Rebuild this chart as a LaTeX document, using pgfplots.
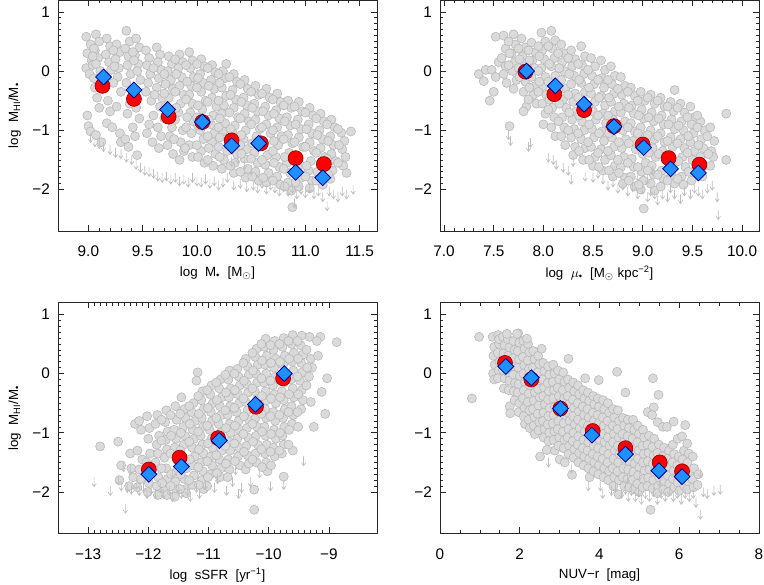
\documentclass[border=0pt]{standalone}
\usepackage{pgfplots}
\pgfplotsset{compat=1.18}
\usepackage{fontspec}
\setmainfont{Liberation Sans}

\definecolor{ptfill}{RGB}{218,218,218}
\definecolor{ptedge}{RGB}{185,185,185}
\definecolor{arrgray}{RGB}{190,190,190}
\definecolor{mred}{RGB}{255,0,0}
\definecolor{mdarkred}{RGB}{150,0,0}
\definecolor{mblue}{RGB}{30,144,255}
\definecolor{mdarkblue}{RGB}{0,0,150}

% upper limit: line from the value downwards with an open head
\pgfdeclareplotmark{darrow}{%
  \pgfpathmoveto{\pgfqpoint{0pt}{0pt}}%
  \pgfpathlineto{\pgfqpoint{0pt}{-7pt}}%
  \pgfpathmoveto{\pgfqpoint{-1.6pt}{-4.6pt}}%
  \pgfpathlineto{\pgfqpoint{0pt}{-7pt}}%
  \pgfpathlineto{\pgfqpoint{1.6pt}{-4.6pt}}%
  \pgfusepathqstroke}

\pgfplotsset{
  panel/.style={
    scale only axis, width=239.25pt, height=173.25pt, anchor=north west,
    ymin=-2.7, ymax=1.2, ytick={-2,-1,0,1}, yticklabels={−2,−1,0,1},
    minor y tick num=9, tick align=inside, tick pos=both,
    major tick length=4.5pt, minor tick length=2.3pt,
    axis line style={line width=0.6pt, black!85},
    every tick/.style={black!85, line width=0.5pt},
    tick label style={font=\fontsize{11.5}{13}\selectfont},
    label style={font=\fontsize{11.5}{13}\selectfont},
    xticklabel style={anchor=center, yshift=-15.5pt},
    yticklabel style={xshift=-2.5pt},
    every axis x label/.style={at={(axis description cs:0.5,0)}, yshift=-31.5pt, anchor=center},
    every axis y label/.style={at={(axis description cs:0,0.5)}, xshift=-32.5pt, rotate=90, anchor=center},
  },
  gals/.style={only marks, mark=*, mark size=3.4pt,
    mark options={fill=ptfill, draw=ptedge, line width=0.45pt}},
  lims/.style={only marks, mark=darrow, mark options={draw=arrgray, line width=0.5pt}},
  redpts/.style={only marks, mark=*, mark size=5.6pt,
    mark options={fill=mred, draw=mdarkred, line width=0.5pt}},
  bluepts/.style={only marks, mark=square*, mark size=4.2pt,
    mark options={rotate=45, fill=mblue, draw=mdarkblue, line width=0.6pt}},
}

\begin{document}
\begin{tikzpicture}
\path[use as bounding box] (0,0) rectangle (573pt,438.75pt);

% ---------- top left: stellar mass ----------
\begin{axis}[panel, at={(43.5pt,438.75pt)},
  xmin=8.72, xmax=11.66, xtick={9,9.5,10,10.5,11,11.5},
  xticklabels={9.0,9.5,10.0,10.5,11.0,11.5}, minor x tick num=4,
  xlabel={log\ \ M\textsubscript{•}\ \ [M$_\odot$]},
  ylabel={log\ \ M\textsubscript{HI}/M\textsubscript{•}}]
\addplot[gals] coordinates {
(8.98,0.58)(9.02,0.45)(8.99,0.3)(9.03,0.18)(8.98,0.05)(9.01,-0.05)(9.04,0.1)(8.99,-0.75)(9.0,-0.93)(9.02,-1.02)
(9.07,0.62)(9.1,0.5)(9.06,0.35)(9.09,0.22)(9.07,0.12)(9.11,0.0)(9.08,-0.45)(9.1,-0.62)(9.07,-1.08)(9.12,-1.2)
(9.17,0.55)(9.2,0.42)(9.16,0.28)(9.19,0.15)(9.21,0.02)(9.18,-0.5)(9.2,-0.68)(9.17,-0.88)(9.22,-0.95)
(9.26,0.45)(9.29,0.32)(9.25,0.2)(9.28,0.05)(9.27,-0.1)(9.3,-0.35)(9.26,-0.6)(9.29,-1.05)(9.3,-1.2)
(9.35,0.68)(9.38,0.5)(9.34,0.38)(9.37,0.25)(9.36,0.1)(9.39,-0.05)(9.35,-0.2)(9.38,-0.55)(9.36,-0.72)(9.34,-1.15)(9.37,-1.28)
(9.44,0.55)(9.47,0.4)(9.43,0.27)(9.46,0.12)(9.45,0.0)(9.48,-0.15)(9.44,-0.62)(9.47,-0.8)(9.45,-1.42)(9.43,-1.1)
(9.53,0.35)(9.56,0.22)(9.54,0.1)(9.57,-0.05)(9.55,-0.2)(9.53,-0.35)(9.58,-0.5)(9.56,-0.9)(9.59,-1.2)(9.54,-1.05)
(9.63,0.4)(9.66,0.28)(9.64,0.15)(9.67,0.02)(9.65,-0.12)(9.63,-0.28)(9.68,-0.45)(9.66,-0.6)(9.64,-0.95)(9.67,-1.1)(9.65,-1.3)
(9.74,0.25)(9.77,0.12)(9.73,0.0)(9.76,-0.15)(9.78,-0.3)(9.74,-0.45)(9.77,-0.95)(9.75,-1.1)(9.73,-1.25)(9.78,-1.4)
(9.84,0.28)(9.87,0.15)(9.83,0.05)(9.86,-0.1)(9.84,-0.25)(9.88,-0.4)(9.85,-0.55)(9.83,-0.7)(9.87,-1.0)(9.85,-1.2)(9.88,-1.35)(9.84,-1.5)
(9.93,0.32)(9.96,0.18)(9.94,0.05)(9.97,-0.1)(9.95,-0.25)(9.93,-0.4)(9.96,-0.55)(9.94,-0.7)(9.97,-0.85)(9.95,-1.05)(9.93,-1.25)(9.96,-1.45)
(10.04,0.2)(10.07,0.08)(10.03,-0.05)(10.06,-0.2)(10.04,-0.35)(10.08,-0.5)(10.05,-0.65)(10.03,-1.0)(10.06,-1.15)(10.04,-1.35)(10.07,-1.55)
(10.14,0.1)(10.17,-0.02)(10.13,-0.15)(10.16,-0.3)(10.14,-0.45)(10.18,-0.6)(10.15,-0.75)(10.13,-0.9)(10.16,-1.05)(10.14,-1.2)(10.17,-1.4)(10.15,-1.6)
(10.27,0.12)(10.24,0.0)(10.26,-0.12)(10.23,-0.28)(10.27,-0.42)(10.25,-0.58)(10.23,-0.72)(10.26,-0.88)(10.24,-1.02)(10.28,-1.35)(10.25,-1.5)(10.23,-1.65)
(10.34,-0.05)(10.37,-0.18)(10.33,-0.32)(10.36,-0.48)(10.34,-0.62)(10.38,-0.78)(10.35,-0.92)(10.33,-1.05)(10.37,-1.4)(10.35,-1.55)(10.34,-1.72)
(10.44,-0.15)(10.47,-0.3)(10.43,-0.45)(10.46,-0.58)(10.44,-0.72)(10.48,-0.85)(10.45,-1.0)(10.43,-1.15)(10.46,-1.32)(10.44,-1.48)(10.47,-1.65)(10.45,-1.8)
(10.54,-0.25)(10.57,-0.4)(10.53,-0.55)(10.56,-0.68)(10.54,-0.82)(10.58,-0.98)(10.55,-1.1)(10.53,-1.38)(10.56,-1.55)(10.54,-1.7)(10.57,-1.85)
(10.64,-0.3)(10.67,-0.45)(10.63,-0.6)(10.66,-0.75)(10.64,-0.9)(10.68,-1.05)(10.65,-1.42)(10.63,-1.58)(10.66,-1.72)(10.64,-1.88)
(10.74,-0.38)(10.77,-0.52)(10.73,-0.66)(10.76,-0.8)(10.74,-0.95)(10.78,-1.1)(10.75,-1.25)(10.73,-1.45)(10.76,-1.62)(10.74,-1.78)(10.77,-1.92)
(10.84,-0.5)(10.87,-0.62)(10.83,-0.78)(10.86,-0.92)(10.84,-1.08)(10.88,-1.22)(10.85,-1.38)(10.83,-1.55)(10.86,-1.72)(10.84,-1.88)(10.87,-2.02)
(10.94,-0.52)(10.97,-0.68)(10.93,-0.82)(10.96,-0.98)(10.94,-1.12)(10.98,-1.28)(10.93,-1.62)(10.96,-1.8)(10.94,-1.95)(10.88,-2.3)
(11.04,-0.62)(11.07,-0.75)(11.03,-0.9)(11.06,-1.05)(11.04,-1.2)(11.08,-1.35)(11.05,-1.52)(11.03,-1.68)(11.06,-1.85)(11.04,-1.98)
(11.14,-0.72)(11.17,-0.85)(11.13,-1.0)(11.16,-1.15)(11.14,-1.3)(11.18,-1.45)(11.15,-1.62)(11.13,-1.78)(11.16,-1.92)
(11.24,-0.82)(11.27,-0.95)(11.23,-1.1)(11.26,-1.25)(11.24,-1.4)(11.28,-1.52)(11.25,-1.68)(11.23,-1.82)
(11.33,-1.04)(11.36,-1.18)(11.34,-1.32)(11.37,-1.45)(11.35,-1.6)(11.38,-1.72)(11.42,-1.02)
};
\addplot[gals] coordinates {
(9.05,0.38)(9.04,0.25)(9.05,-0.12)(9.06,-0.28)(9.23,0.35)(9.24,0.08)(9.23,-0.2)
(9.41,0.32)(9.42,0.18)(9.41,-0.3)(9.41,-0.95)(9.6,0.05)(9.61,-0.4)(9.6,-0.75)
(9.7,-0.05)(9.71,-0.22)(9.7,-0.38)(9.71,-0.6)(9.7,-0.8)
(9.8,0.2)(9.81,-0.05)(9.8,-0.35)(9.81,-0.62)(9.8,-0.82)(9.79,-1.15)
(9.9,0.1)(9.91,-0.18)(9.9,-0.48)(9.91,-0.78)(9.9,-0.95)(9.89,-1.3)
(10.0,0.12)(10.01,-0.12)(10.0,-0.28)(10.01,-0.58)(10.0,-0.78)(10.01,-0.92)(10.0,-1.25)(10.01,-1.45)
(10.1,0.05)(10.11,-0.25)(10.1,-0.52)(10.11,-0.82)(10.1,-1.1)(10.11,-1.3)(10.1,-1.5)
(10.2,-0.05)(10.21,-0.2)(10.2,-0.5)(10.21,-0.8)(10.2,-0.95)(10.21,-1.12)(10.2,-1.28)(10.21,-1.45)
(10.3,-0.1)(10.31,-0.4)(10.3,-0.7)(10.31,-0.98)(10.3,-1.25)(10.31,-1.6)
(10.4,-0.22)(10.41,-0.52)(10.4,-0.8)(10.41,-1.08)(10.4,-1.25)(10.41,-1.4)(10.4,-1.7)
(10.5,-0.35)(10.51,-0.62)(10.5,-0.9)(10.51,-1.22)(10.5,-1.48)(10.51,-1.78)
(10.6,-0.38)(10.61,-0.68)(10.6,-0.95)(10.61,-1.25)(10.6,-1.5)(10.61,-1.8)
(10.7,-0.48)(10.71,-0.72)(10.7,-1.0)(10.71,-1.18)(10.7,-1.35)(10.71,-1.55)(10.7,-1.85)
(10.8,-0.58)(10.81,-0.85)(10.8,-1.15)(10.81,-1.45)(10.8,-1.65)(10.81,-1.95)
(10.9,-0.6)(10.91,-0.9)(10.9,-1.2)(10.91,-1.5)(10.9,-1.72)(10.91,-1.88)
(11.0,-0.7)(11.01,-0.98)(11.0,-1.28)(11.01,-1.6)(11.0,-1.78)
(11.1,-0.8)(11.11,-1.08)(11.1,-1.38)(11.11,-1.7)(11.1,-1.85)
(11.2,-0.9)(11.21,-1.18)(11.2,-1.48)(11.21,-1.75)(11.3,-0.98)(11.31,-1.25)(11.3,-1.55)
};
\addplot[lims] coordinates {
(9.02,-1.05)(9.06,-1.12)(9.1,-1.15)(9.14,-1.2)(9.2,-1.25)(9.25,-1.3)(9.3,-1.32)(9.35,-1.38)(9.4,-1.42)(9.44,-1.5)
(9.48,-1.55)(9.52,-1.6)(9.56,-1.62)(9.6,-1.65)(9.64,-1.7)(9.68,-1.72)(9.72,-1.7)(9.76,-1.75)(9.8,-1.72)(9.84,-1.78)
(9.88,-1.75)(9.92,-1.8)(9.96,-1.72)(10.0,-1.78)(10.04,-1.8)(10.08,-1.75)(10.12,-1.82)(10.16,-1.78)(10.2,-1.85)(10.24,-1.8)
(10.28,-1.72)(10.32,-1.45)(10.34,-1.85)(10.38,-1.4)(10.4,-1.82)(10.44,-1.5)(10.46,-1.88)(10.5,-1.6)(10.52,-1.85)(10.56,-1.9)
(10.6,-1.82)(10.64,-1.92)(10.68,-1.85)(10.72,-1.9)(10.76,-1.95)(10.8,-1.88)(10.84,-1.95)(10.88,-1.9)(10.92,-2.0)(10.96,-1.92)
(11.0,-1.98)(11.04,-1.9)(11.08,-2.0)(11.12,-1.95)(11.16,-2.05)(11.2,-2.2)(11.22,-1.95)(11.26,-2.0)(11.3,-2.05)(11.34,-1.95)
(11.38,-2.0)(11.44,-1.92)(10.9,-2.15)
};
\addplot[redpts] coordinates {(9.13,-0.25)(9.42,-0.47)(9.74,-0.77)(10.05,-0.86)(10.32,-1.17)(10.59,-1.22)(10.91,-1.47)(11.17,-1.57)};
\addplot[bluepts] coordinates {(9.14,-0.10)(9.42,-0.32)(9.73,-0.65)(10.05,-0.86)(10.32,-1.26)(10.57,-1.22)(10.91,-1.71)(11.16,-1.80)};
\end{axis}

% ---------- top right: surface density ----------
\begin{axis}[panel, at={(330pt,438.75pt)},
  xmin=6.96, xmax=10.17, xtick={7,7.5,8,8.5,9,9.5,10},
  xticklabels={7.0,7.5,8.0,8.5,9.0,9.5,10.0}, minor x tick num=4,
  xlabel={log\ \ $\mu$\textsubscript{•}\ \ [M$_\odot$\ kpc\textsuperscript{−2}]}]
\addplot[gals] coordinates {
(7.35,-0.05)(7.4,-0.17)(7.42,0.02)
(7.48,0.02)(7.52,-0.1)(7.46,-0.5)(7.5,-0.35)(7.55,0.15)(7.52,0.58)
(7.6,0.6)(7.62,0.38)(7.58,0.22)(7.62,0.08)(7.6,-0.05)(7.63,-0.2)(7.66,-0.93)
(7.7,0.62)(7.72,0.45)(7.68,0.3)(7.71,0.15)(7.69,0.0)(7.73,-0.15)(7.7,-0.3)
(7.78,0.55)(7.82,0.4)(7.79,0.25)(7.81,0.12)(7.78,-0.02)(7.82,-0.18)(7.8,-0.35)(7.83,-0.6)(7.8,-0.68)
(7.88,0.48)(7.92,0.32)(7.89,0.18)(7.91,0.05)(7.88,-0.1)(7.92,-0.25)(7.9,-0.4)(7.93,-0.55)
(7.98,0.65)(8.02,0.5)(7.99,0.35)(8.01,0.2)(7.98,0.05)(8.02,-0.1)(8.0,-0.25)(8.03,-0.4)(7.99,-0.55)(8.02,-0.72)(8.0,-0.9)
(8.08,0.68)(8.12,0.52)(8.09,0.38)(8.11,0.22)(8.08,0.08)(8.12,-0.08)(8.1,-0.22)(8.13,-0.45)(8.09,-0.62)(8.11,-0.78)(8.08,-0.95)(8.12,-1.1)
(8.18,0.45)(8.22,0.3)(8.19,0.15)(8.21,0.0)(8.18,-0.15)(8.22,-0.3)(8.2,-0.48)(8.23,-0.62)(8.19,-0.78)(8.21,-0.95)(8.18,-1.1)(8.22,-1.25)
(8.28,0.35)(8.32,0.2)(8.29,0.08)(8.31,-0.08)(8.28,-0.22)(8.32,-0.38)(8.3,-0.52)(8.33,-0.68)(8.29,-0.82)(8.31,-0.98)(8.28,-1.12)(8.32,-1.28)(8.3,-1.42)
(8.38,0.42)(8.42,0.25)(8.39,0.1)(8.41,-0.05)(8.38,-0.2)(8.42,-0.35)(8.4,-0.5)(8.43,-0.68)(8.39,-0.85)(8.41,-1.0)(8.38,-1.15)(8.42,-1.3)(8.4,-1.5)
(8.48,0.22)(8.52,0.08)(8.49,-0.08)(8.51,-0.22)(8.48,-0.38)(8.52,-0.52)(8.5,-0.68)(8.53,-0.82)(8.49,-0.98)(8.51,-1.12)(8.48,-1.28)(8.52,-1.45)(8.5,-1.6)
(8.58,0.18)(8.62,0.02)(8.59,-0.12)(8.61,-0.28)(8.58,-0.42)(8.62,-0.58)(8.6,-0.72)(8.63,-0.88)(8.59,-1.02)(8.61,-1.18)(8.58,-1.32)(8.62,-1.5)(8.6,-1.68)
(8.68,0.08)(8.72,-0.08)(8.69,-0.22)(8.71,-0.38)(8.68,-0.52)(8.72,-0.68)(8.7,-0.82)(8.73,-0.98)(8.69,-1.12)(8.71,-1.28)(8.68,-1.42)(8.72,-1.6)(8.7,-1.78)
(8.78,-0.1)(8.82,-0.25)(8.79,-0.4)(8.81,-0.55)(8.78,-0.7)(8.82,-0.85)(8.8,-1.0)(8.83,-1.15)(8.79,-1.3)(8.81,-1.45)(8.78,-1.62)(8.82,-1.8)(8.8,-1.9)
(8.88,-0.28)(8.92,-0.42)(8.89,-0.58)(8.91,-0.72)(8.88,-0.88)(8.92,-1.02)(8.9,-1.18)(8.93,-1.32)(8.89,-1.48)(8.91,-1.62)(8.88,-1.78)(8.92,-1.95)
(8.98,-0.35)(9.02,-0.5)(8.99,-0.65)(9.01,-0.8)(8.98,-0.95)(9.02,-1.1)(9.0,-1.4)(9.03,-1.55)(8.99,-1.7)(9.01,-1.85)(8.98,-2.0)(9.01,-2.32)
(9.08,-0.4)(9.12,-0.55)(9.09,-0.7)(9.11,-0.85)(9.08,-1.0)(9.12,-1.15)(9.1,-1.3)(9.13,-1.45)(9.09,-1.6)(9.11,-1.75)(9.08,-1.9)(9.12,-2.02)
(9.18,-0.45)(9.22,-0.6)(9.19,-0.75)(9.21,-0.9)(9.18,-1.05)(9.22,-1.2)(9.2,-1.35)(9.23,-1.5)(9.19,-1.68)(9.21,-1.82)(9.18,-1.95)
(9.32,-0.32)(9.28,-0.52)(9.31,-0.68)(9.29,-0.82)(9.32,-0.98)(9.28,-1.12)(9.3,-1.28)(9.27,-1.42)(9.31,-1.58)(9.29,-1.75)(9.32,-1.9)
(9.38,-0.55)(9.42,-0.7)(9.39,-0.85)(9.41,-1.0)(9.38,-1.15)(9.42,-1.3)(9.4,-1.45)(9.43,-1.62)(9.39,-1.78)(9.41,-1.92)
(9.48,-0.6)(9.52,-0.78)(9.49,-0.9)(9.51,-1.05)(9.48,-1.2)(9.52,-1.35)(9.5,-1.5)(9.53,-1.68)(9.49,-1.85)
(9.58,-0.85)(9.62,-1.0)(9.59,-1.15)(9.61,-1.3)(9.58,-1.45)(9.62,-1.6)(9.6,-1.78)(9.55,-0.75)
(9.68,-0.95)(9.72,-1.18)(9.69,-1.35)(9.71,-1.45)(9.68,-1.6)(9.84,-0.72)(9.84,-1.5)
};
\addplot[gals] coordinates {
(7.65,0.5)(7.66,0.3)(7.65,0.1)(7.75,0.38)(7.76,0.2)(7.75,0.05)(7.76,-0.1)
(7.85,0.35)(7.86,0.18)(7.85,-0.05)(7.86,-0.28)(7.85,-0.48)
(7.95,0.42)(7.96,0.25)(7.95,0.0)(7.96,-0.18)(7.95,-0.35)
(8.05,0.42)(8.06,0.12)(8.05,-0.18)(8.06,-0.48)(8.05,-0.65)
(8.15,0.3)(8.16,0.05)(8.15,-0.32)(8.16,-0.55)(8.15,-0.85)
(8.25,0.22)(8.26,-0.05)(8.25,-0.4)(8.26,-0.7)(8.25,-1.0)
(8.35,0.12)(8.36,-0.15)(8.35,-0.45)(8.36,-0.75)(8.35,-1.05)(8.36,-1.35)
(8.45,0.02)(8.46,-0.28)(8.45,-0.6)(8.46,-0.9)(8.45,-1.2)(8.46,-1.5)
(8.55,-0.15)(8.56,-0.45)(8.55,-0.75)(8.56,-1.05)(8.55,-1.38)(8.56,-1.62)
(8.65,-0.15)(8.66,-0.45)(8.65,-0.75)(8.66,-1.05)(8.65,-1.35)(8.66,-1.68)
(8.75,-0.3)(8.76,-0.6)(8.75,-0.9)(8.76,-1.2)(8.75,-1.5)(8.76,-1.72)
(8.85,-0.35)(8.86,-0.62)(8.85,-0.95)(8.86,-1.22)(8.85,-1.55)(8.86,-1.85)
(8.95,-0.5)(8.96,-0.75)(8.95,-1.05)(8.96,-1.25)(8.95,-1.62)(8.96,-1.92)
(9.05,-0.45)(9.06,-0.78)(9.05,-1.08)(9.06,-1.38)(9.05,-1.68)
(9.15,-0.5)(9.16,-0.8)(9.15,-1.1)(9.16,-1.4)(9.15,-1.75)
(9.25,-0.6)(9.26,-0.9)(9.25,-1.18)(9.26,-1.48)(9.25,-1.85)
(9.35,-0.62)(9.36,-0.92)(9.35,-1.22)(9.36,-1.52)(9.35,-1.82)
(9.45,-0.78)(9.46,-1.1)(9.45,-1.38)(9.46,-1.7)(9.55,-0.95)(9.56,-1.25)(9.55,-1.55)(9.65,-1.1)(9.66,-1.4)
};
\addplot[lims] coordinates {
(7.65,-1.0)(7.67,-1.1)(7.85,-1.2)(7.87,-1.13)(8.05,-1.38)(8.1,-1.42)(8.13,-1.5)(8.2,-1.55)(8.25,-1.6)(8.3,-1.45)
(8.28,-1.75)(8.42,-1.7)(8.5,-1.72)(8.55,-1.65)(8.6,-1.75)(8.65,-1.85)(8.7,-1.8)(8.75,-1.9)(8.8,-1.85)(8.85,-1.95)
(8.9,-1.88)(8.95,-2.0)(9.0,-1.92)(9.05,-2.05)(9.08,-1.95)(9.12,-2.0)(9.15,-2.1)(9.2,-2.0)(9.25,-2.05)(9.28,-1.9)
(9.32,-2.0)(9.38,-2.08)(9.42,-1.95)(9.48,-2.0)(9.52,-1.9)(9.56,-1.95)(9.6,-2.0)(9.65,-1.9)(9.7,-1.85)(9.75,-2.05)
(9.76,-2.35)(9.05,-1.75)(8.95,-1.7)(9.1,-1.6)
};
\addplot[redpts] coordinates {(7.82,-0.01)(8.11,-0.39)(8.41,-0.66)(8.71,-0.93)(9.00,-1.24)(9.26,-1.47)(9.57,-1.58)};
\addplot[bluepts] coordinates {(7.83,0.0)(8.12,-0.25)(8.41,-0.56)(8.71,-0.94)(9.01,-1.29)(9.28,-1.65)(9.56,-1.72)};
\end{axis}

% ---------- bottom left: specific SFR ----------
\begin{axis}[panel, at={(43.5pt,211.875pt)},
  xmin=-13.5, xmax=-8.2, xtick={-13,-12,-11,-10,-9},
  xticklabels={−13,−12,−11,−10,−9}, minor x tick num=9,
  xlabel={log\ \ sSFR\ \ [yr\textsuperscript{−1}]},
  ylabel={log\ \ M\textsubscript{HI}/M\textsubscript{•}}]
\addplot[gals] coordinates {
(-12.8,-1.23)(-12.5,-1.15)(-12.45,-1.55)(-12.48,-1.8)
(-12.3,-1.35)(-12.28,-1.6)(-12.25,-1.75)(-12.22,-0.85)(-12.32,-1.9)
(-12.15,-0.8)(-12.12,-0.95)(-12.18,-1.3)(-12.1,-1.45)(-12.15,-1.62)(-12.12,-1.78)(-12.18,-1.92)
(-12.02,-0.72)(-11.98,-0.92)(-12.0,-1.1)(-11.97,-1.35)(-12.03,-1.5)(-11.99,-1.85)(-12.01,-2.0)
(-11.85,-0.7)(-11.88,-0.85)(-11.82,-1.05)(-11.86,-1.2)(-11.84,-1.35)(-11.88,-1.5)(-11.83,-1.75)(-11.86,-1.9)(-11.84,-2.05)
(-11.7,-0.62)(-11.72,-0.82)(-11.68,-0.98)(-11.71,-1.12)(-11.69,-1.28)(-11.73,-1.42)(-11.7,-1.6)(-11.68,-1.78)(-11.72,-1.95)(-11.69,-2.05)
(-11.55,-0.55)(-11.53,-0.78)(-11.57,-0.95)(-11.54,-1.1)(-11.56,-1.25)(-11.52,-1.65)(-11.55,-1.82)(-11.53,-1.98)(-11.56,-2.08)
(-11.4,-0.6)(-11.38,-0.75)(-11.42,-0.9)(-11.39,-1.05)(-11.41,-1.2)(-11.37,-1.6)(-11.4,-1.78)(-11.38,-1.95)(-11.37,-2.02)(-11.45,-0.4)
(-11.25,-0.5)(-11.28,-0.65)(-11.22,-0.8)(-11.26,-0.95)(-11.24,-1.1)(-11.27,-1.25)(-11.23,-1.4)(-11.26,-1.55)(-11.24,-1.72)(-11.27,-1.88)(-11.18,0.02)(-11.2,-0.12)
(-11.1,-0.3)(-11.12,-0.45)(-11.08,-0.6)(-11.11,-0.75)(-11.09,-0.9)(-11.13,-1.05)(-11.1,-1.2)(-11.08,-1.35)(-11.12,-1.5)(-11.09,-1.65)(-11.11,-1.8)(-11.08,-1.95)
(-10.95,-0.2)(-10.97,-0.35)(-10.93,-0.5)(-10.96,-0.65)(-10.94,-0.8)(-10.98,-0.95)(-10.95,-1.1)(-10.93,-1.25)(-10.96,-1.4)(-10.94,-1.55)(-10.97,-1.7)(-11.02,-1.9)
(-10.8,-0.1)(-10.82,-0.25)(-10.78,-0.4)(-10.81,-0.55)(-10.79,-0.7)(-10.83,-0.85)(-10.8,-1.0)(-10.78,-1.3)(-10.82,-1.45)(-10.79,-1.6)(-10.81,-1.75)
(-10.65,0.05)(-10.67,-0.1)(-10.63,-0.25)(-10.66,-0.4)(-10.64,-0.55)(-10.68,-0.7)(-10.65,-0.85)(-10.63,-1.0)(-10.66,-1.15)(-10.64,-1.3)(-10.67,-1.45)(-10.65,-1.62)(-10.68,-1.75)
(-10.52,0.08)(-10.5,-0.05)(-10.48,-0.2)(-10.51,-0.35)(-10.49,-0.5)(-10.53,-0.65)(-10.5,-0.8)(-10.48,-0.95)(-10.52,-1.1)(-10.49,-1.25)(-10.51,-1.4)(-10.48,-1.55)(-10.38,-1.62)
(-10.38,0.25)(-10.35,0.12)(-10.33,-0.02)(-10.36,-0.18)(-10.34,-0.32)(-10.38,-0.48)(-10.35,-0.62)(-10.33,-0.78)(-10.36,-0.92)(-10.34,-1.08)(-10.37,-1.22)(-10.35,-1.38)(-10.33,-1.52)
(-10.2,0.42)(-10.22,0.28)(-10.18,0.15)(-10.21,0.0)(-10.19,-0.15)(-10.23,-0.3)(-10.2,-0.45)(-10.18,-0.6)(-10.22,-0.75)(-10.19,-0.9)(-10.21,-1.05)(-10.18,-1.2)(-10.22,-1.35)(-10.2,-1.5)(-10.24,-1.96)(-10.24,-2.3)
(-10.05,0.59)(-10.07,0.45)(-10.03,0.3)(-10.06,0.15)(-10.04,0.0)(-10.08,-0.15)(-10.05,-0.3)(-10.03,-0.45)(-10.06,-0.6)(-10.04,-0.75)(-10.07,-0.9)(-10.05,-1.05)(-10.03,-1.2)(-10.06,-1.35)(-10.04,-1.5)(-10.02,-1.65)
(-9.9,0.55)(-9.92,0.4)(-9.88,0.25)(-9.91,0.1)(-9.89,-0.05)(-9.93,-0.2)(-9.9,-0.35)(-9.88,-0.5)(-9.92,-0.65)(-9.89,-0.8)(-9.91,-0.95)(-9.88,-1.1)(-9.92,-1.25)(-9.9,-1.4)
(-9.75,0.6)(-9.77,0.45)(-9.73,0.3)(-9.76,0.15)(-9.74,-0.15)(-9.78,-0.3)(-9.75,-0.45)(-9.73,-0.6)(-9.76,-0.75)(-9.74,-0.9)(-9.77,-1.05)(-9.75,-1.2)(-9.78,-1.35)(-9.75,-1.74)
(-9.6,0.65)(-9.62,0.5)(-9.58,0.35)(-9.61,0.2)(-9.59,0.05)(-9.63,-0.1)(-9.6,-0.25)(-9.58,-0.4)(-9.62,-0.55)(-9.59,-0.7)(-9.61,-0.85)(-9.6,-1.3)
(-9.45,0.64)(-9.47,0.48)(-9.43,0.32)(-9.46,0.18)(-9.44,0.02)(-9.48,-0.12)(-9.45,-0.28)(-9.43,-0.45)(-9.46,-0.6)(-9.25,-0.9)
(-9.32,0.62)(-9.3,0.25)(-9.28,0.1)(-9.33,-0.05)(-9.3,-0.48)(-9.14,0.62)(-9.12,-0.31)(-9.03,-0.08)(-9.06,-0.68)(-8.87,0.53)
};
\addplot[gals] coordinates {
(-11.78,-0.78)(-11.78,-1.13)(-11.78,-1.6)(-11.77,-1.85)
(-11.63,-0.7)(-11.62,-1.05)(-11.63,-1.35)(-11.62,-1.7)(-11.63,-1.9)
(-11.47,-0.68)(-11.46,-1.0)(-11.47,-1.3)(-11.46,-1.7)(-11.47,-1.95)
(-11.32,-0.55)(-11.31,-0.85)(-11.32,-1.15)(-11.31,-1.45)(-11.32,-1.8)
(-11.17,-0.38)(-11.16,-0.68)(-11.17,-0.98)(-11.16,-1.28)(-11.17,-1.58)(-11.16,-1.88)
(-11.02,-0.28)(-11.01,-0.58)(-11.02,-0.88)(-11.01,-1.18)(-11.02,-1.48)(-11.01,-1.75)
(-10.87,-0.15)(-10.86,-0.45)(-10.87,-0.75)(-10.86,-1.08)(-10.87,-1.38)(-10.86,-1.68)
(-10.72,-0.02)(-10.71,-0.32)(-10.72,-0.62)(-10.71,-0.92)(-10.72,-1.22)(-10.71,-1.52)
(-10.57,0.0)(-10.56,-0.28)(-10.57,-0.58)(-10.56,-0.88)(-10.57,-1.18)(-10.56,-1.48)
(-10.42,0.18)(-10.41,-0.12)(-10.42,-0.42)(-10.41,-0.72)(-10.42,-1.02)(-10.41,-1.32)
(-10.27,0.35)(-10.26,0.05)(-10.27,-0.25)(-10.26,-0.55)(-10.27,-0.85)(-10.26,-1.15)(-10.27,-1.45)
(-10.12,0.5)(-10.11,0.22)(-10.12,-0.08)(-10.11,-0.38)(-10.12,-0.68)(-10.11,-0.98)(-10.12,-1.28)(-10.11,-1.58)
(-9.97,0.48)(-9.96,0.18)(-9.97,-0.12)(-9.96,-0.42)(-9.97,-0.72)(-9.96,-1.02)(-9.97,-1.32)(-9.96,-1.55)
(-9.82,0.5)(-9.81,0.2)(-9.82,-0.1)(-9.81,-0.4)(-9.82,-0.7)(-9.81,-1.0)(-9.82,-1.3)
(-9.67,0.55)(-9.66,0.25)(-9.67,-0.05)(-9.66,-0.35)(-9.67,-0.65)(-9.66,-0.95)(-9.67,-1.2)
(-9.52,0.55)(-9.51,0.25)(-9.52,-0.05)(-9.51,-0.35)(-9.52,-0.65)(-9.51,-0.9)
(-9.37,0.4)(-9.36,0.1)(-9.37,-0.2)(-9.2,0.55)(-9.18,0.3)
};
\addplot[lims] coordinates {
(-12.9,-1.75)(-12.63,-1.9)(-12.5,-1.72)(-12.45,-1.82)(-12.41,-1.5)(-12.38,-2.2)(-12.35,-1.85)(-12.28,-1.88)(-12.2,-1.8)(-12.15,-1.9)
(-12.08,-1.85)(-12.02,-1.95)(-11.95,-1.88)(-11.88,-1.95)(-11.8,-1.85)(-11.75,-1.95)(-11.65,-1.9)(-11.6,-2.0)(-11.5,-1.85)(-11.45,-1.95)
(-11.35,-1.9)(-11.3,-2.0)(-11.2,-1.85)(-11.15,-1.95)(-11.05,-1.8)(-10.9,-1.85)(-10.85,-1.7)(-10.7,-1.9)(-10.6,-1.75)(-10.5,-1.95)
(-10.45,-1.85)(-10.3,-1.75)(-10.15,-1.6)(-9.97,-1.82)(-9.75,-1.8)(-9.42,-1.4)(-10.55,-1.55)(-11.6,-1.6)(-12.3,-1.55)
};
\addplot[redpts] coordinates {(-11.99,-1.62)(-11.48,-1.42)(-10.84,-1.09)(-10.21,-0.56)(-9.76,-0.08)};
\addplot[bluepts] coordinates {(-11.99,-1.70)(-11.45,-1.57)(-10.82,-1.13)(-10.22,-0.52)(-9.74,0.0)};
\end{axis}

% ---------- bottom right: colour ----------
\begin{axis}[panel, at={(330pt,211.875pt)},
  xmin=0, xmax=8, xtick={0,2,4,6,8}, xticklabels={0,2,4,6,8}, minor x tick num=3,
  xlabel={NUV−r\ \ [mag]}]
\addplot[gals] coordinates {
(1.32,0.62)(1.36,0.45)(1.34,0.3)(1.37,0.15)(1.33,0.0)(1.36,-0.1)
(1.46,0.65)(1.48,0.5)(1.45,0.35)(1.49,0.2)(1.47,0.05)(1.45,-0.08)(1.48,0.58)
(1.58,0.62)(1.62,0.48)(1.59,0.34)(1.61,0.2)(1.58,0.06)(1.62,-0.08)(1.6,-0.25)
(1.7,0.58)(1.74,0.44)(1.71,0.3)(1.73,0.16)(1.7,0.02)(1.74,-0.12)(1.72,-0.28)(1.75,-0.55)(1.76,-0.67)
(1.84,0.55)(1.87,0.4)(1.83,0.26)(1.86,0.12)(1.84,-0.02)(1.88,-0.16)(1.85,-0.3)(1.87,-0.45)
(1.96,0.68)(1.99,0.52)(1.95,0.38)(1.98,0.24)(1.96,0.1)(2.0,-0.04)(1.97,-0.18)(1.95,-0.32)(1.99,-0.5)(1.97,-0.65)
(2.09,0.55)(2.12,0.42)(2.08,0.28)(2.11,0.14)(2.09,0.0)(2.13,-0.14)(2.1,-0.28)(2.08,-0.42)(2.12,-0.58)(2.1,-0.72)(2.13,-0.85)
(2.21,0.5)(2.24,0.36)(2.2,0.22)(2.23,0.08)(2.21,-0.06)(2.25,-0.2)(2.22,-0.34)(2.2,-0.48)(2.24,-0.62)(2.22,-0.78)(2.25,-0.92)
(2.34,0.38)(2.37,0.24)(2.33,0.1)(2.36,-0.04)(2.34,-0.18)(2.38,-0.32)(2.35,-0.46)(2.33,-0.6)(2.37,-0.74)(2.35,-0.88)(2.38,-1.02)
(2.46,0.3)(2.49,0.16)(2.45,0.02)(2.48,-0.12)(2.46,-0.26)(2.5,-0.4)(2.47,-0.54)(2.45,-0.68)(2.49,-0.82)(2.47,-0.96)(2.51,-1.4)
(2.55,0.42)(2.59,0.18)(2.62,0.04)(2.58,-0.1)(2.61,-0.24)(2.59,-0.38)(2.63,-0.52)(2.6,-0.66)(2.58,-0.8)(2.62,-0.94)(2.6,-1.08)(2.68,-1.29)
(2.71,0.12)(2.74,-0.02)(2.7,-0.16)(2.73,-0.3)(2.71,-0.44)(2.75,-0.58)(2.72,-0.72)(2.7,-0.86)(2.74,-1.0)(2.72,-1.14)
(2.84,0.15)(2.87,0.0)(2.83,-0.14)(2.86,-0.28)(2.84,-0.42)(2.88,-0.56)(2.85,-0.7)(2.83,-0.84)(2.87,-0.98)(2.85,-1.12)(2.88,-1.3)
(2.96,0.05)(2.99,-0.1)(2.95,-0.24)(2.98,-0.38)(2.96,-0.52)(3.0,-0.66)(2.97,-0.8)(2.95,-0.94)(2.99,-1.08)(2.97,-1.22)(3.0,-1.45)
(3.09,0.02)(3.12,-0.14)(3.08,-0.28)(3.11,-0.42)(3.09,-0.56)(3.13,-0.7)(3.1,-0.84)(3.08,-0.98)(3.12,-1.12)(3.1,-1.26)(3.13,-1.5)
(3.22,0.25)(3.21,-0.1)(3.24,-0.24)(3.2,-0.38)(3.23,-0.52)(3.21,-0.66)(3.25,-0.8)(3.22,-0.94)(3.2,-1.08)(3.24,-1.22)(3.22,-1.36)(3.31,-1.71)
(3.34,-0.15)(3.37,-0.3)(3.33,-0.44)(3.36,-0.58)(3.34,-0.72)(3.38,-0.86)(3.35,-1.0)(3.33,-1.14)(3.37,-1.28)(3.35,-1.42)
(3.46,-0.2)(3.49,-0.35)(3.45,-0.5)(3.48,-0.64)(3.46,-0.78)(3.5,-0.92)(3.47,-1.06)(3.45,-1.2)(3.49,-1.34)(3.47,-1.5)
(3.64,-0.08)(3.59,-0.28)(3.62,-0.42)(3.58,-0.56)(3.61,-0.7)(3.59,-0.84)(3.63,-0.98)(3.6,-1.12)(3.58,-1.26)(3.62,-1.4)(3.6,-1.55)
(3.71,-0.32)(3.74,-0.46)(3.7,-0.6)(3.73,-0.74)(3.71,-0.88)(3.75,-1.02)(3.72,-1.16)(3.7,-1.3)(3.74,-1.44)(3.72,-1.6)(3.75,-1.75)
(3.84,-0.38)(3.87,-0.52)(3.83,-0.66)(3.86,-0.8)(3.84,-0.94)(3.88,-1.08)(3.85,-1.22)(3.83,-1.36)(3.87,-1.5)(3.85,-1.65)
(3.98,-0.11)(3.96,-0.42)(3.99,-0.56)(3.95,-0.7)(3.98,-0.84)(3.96,-0.98)(4.0,-1.12)(3.97,-1.26)(3.95,-1.4)(3.99,-1.55)(3.97,-1.7)
(4.09,-0.45)(4.12,-0.6)(4.08,-0.74)(4.11,-0.88)(4.09,-1.02)(4.13,-1.16)(4.1,-1.3)(4.08,-1.44)(4.12,-1.6)(4.1,-1.75)
(4.21,-0.5)(4.24,-0.66)(4.2,-0.8)(4.23,-0.94)(4.21,-1.08)(4.25,-1.22)(4.22,-1.36)(4.2,-1.5)(4.24,-1.65)(4.22,-1.8)
(4.34,-0.6)(4.37,-0.74)(4.33,-0.88)(4.36,-1.02)(4.34,-1.16)(4.38,-1.3)(4.35,-1.44)(4.33,-1.6)(4.37,-1.75)(4.35,-1.9)
(4.44,0.03)(4.46,-0.62)(4.49,-0.8)(4.45,-0.94)(4.48,-1.08)(4.46,-1.22)(4.5,-1.36)(4.47,-1.5)(4.45,-1.65)(4.49,-1.8)(4.48,-2.04)
(4.65,-0.32)(4.59,-0.75)(4.62,-0.88)(4.58,-1.02)(4.61,-1.16)(4.59,-1.3)(4.63,-1.44)(4.6,-1.6)(4.58,-1.75)(4.62,-1.9)
(4.71,-0.78)(4.74,-0.92)(4.7,-1.06)(4.73,-1.2)(4.71,-1.34)(4.75,-1.48)(4.72,-1.62)(4.7,-1.78)(4.74,-1.92)
(4.84,-0.78)(4.87,-0.95)(4.83,-1.1)(4.86,-1.24)(4.84,-1.38)(4.88,-1.52)(4.85,-1.66)(4.83,-1.8)(4.87,-1.95)
(4.96,-0.88)(4.99,-1.02)(4.95,-1.16)(4.98,-1.3)(4.96,-1.44)(5.0,-1.58)(4.97,-1.72)(4.95,-1.86)(4.99,-2.0)
(5.09,-0.95)(5.12,-1.08)(5.08,-1.22)(5.11,-1.36)(5.09,-1.5)(5.13,-1.64)(5.1,-1.78)(5.08,-1.92)
(5.21,-0.65)(5.24,-1.05)(5.2,-1.2)(5.23,-1.34)(5.21,-1.48)(5.25,-1.62)(5.22,-1.76)(5.2,-1.9)(5.28,-2.3)
(5.34,-0.08)(5.36,-0.57)(5.32,-0.7)(5.37,-1.1)(5.33,-1.24)(5.36,-1.38)(5.34,-1.52)(5.38,-1.66)(5.35,-1.8)(5.33,-1.94)
(5.48,-0.36)(5.46,-0.82)(5.49,-1.2)(5.45,-1.34)(5.48,-1.48)(5.46,-1.62)(5.5,-1.76)(5.47,-1.9)(5.45,-2.02)
(5.59,-0.9)(5.62,-1.25)(5.58,-1.4)(5.61,-1.54)(5.59,-1.68)(5.63,-1.82)(5.6,-1.96)
(5.69,-0.9)(5.74,-1.3)(5.7,-1.44)(5.73,-1.58)(5.71,-1.72)(5.75,-1.86)(5.72,-2.0)
(5.86,-0.81)(5.84,-1.2)(5.87,-1.36)(5.83,-1.5)(5.86,-1.64)(5.84,-1.78)(5.88,-1.92)
(5.96,-1.1)(5.99,-1.4)(5.95,-1.55)(5.98,-1.7)(5.96,-1.84)(6.0,-1.98)
(6.07,-1.06)(6.15,-0.87)(6.12,-1.3)(6.08,-1.45)(6.11,-1.6)(6.09,-1.75)(6.13,-1.9)
(6.2,-1.18)(6.24,-1.35)(6.21,-1.5)(6.25,-1.68)(6.22,-1.82)(6.2,-1.96)
(6.34,-1.4)(6.37,-1.6)(6.33,-1.78)(6.36,-1.92)(6.48,-1.7)(6.46,-1.88)
(0.98,0.62)(0.8,-0.42)(1.68,0.67)(1.93,0.67)(2.18,0.59)
};
\addplot[lims] coordinates {
(2.72,-1.42)(3.3,-1.52)(3.72,-1.82)(4.02,-1.82)(4.08,-1.95)(4.3,-1.9)(4.4,-1.85)(4.55,-1.95)(4.65,-1.88)(4.72,-2.0)
(4.8,-1.9)(4.9,-2.0)(4.98,-1.92)(5.05,-2.05)(5.15,-1.95)(5.25,-2.0)(5.35,-1.92)(5.45,-2.05)(5.55,-1.95)(5.65,-2.0)
(5.75,-1.9)(5.85,-2.0)(5.95,-1.95)(6.05,-2.05)(6.15,-1.95)(6.25,-2.0)(6.35,-1.95)(6.42,-2.1)(6.53,-1.6)(6.53,-2.3)
(6.6,-1.92)(6.7,-1.95)(6.87,-1.9)(7.03,-1.88)(5.0,-1.65)(4.7,-1.7)(5.5,-1.75)
};
\addplot[redpts] coordinates {(1.63,0.18)(2.29,-0.10)(3.02,-0.59)(3.83,-0.97)(4.65,-1.26)(5.51,-1.50)(6.07,-1.65)};
\addplot[bluepts] coordinates {(1.65,0.12)(2.29,-0.07)(3.02,-0.59)(3.81,-1.04)(4.65,-1.36)(5.49,-1.64)(6.07,-1.74)};
\end{axis}
\end{tikzpicture}
\end{document}
